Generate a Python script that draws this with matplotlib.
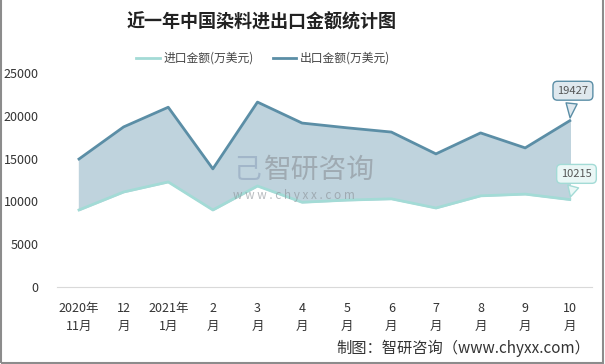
import numpy as np
import matplotlib.pyplot as plt
from matplotlib.patches import Rectangle

plt.rcParams['font.family'] = ['Noto Sans CJK SC', 'DejaVu Sans']

months = ["2020年\n11月", "12\n月", "2021年\n1月", "2\n月", "3\n月", "4\n月",
          "5\n月", "6\n月", "7\n月", "8\n月", "9\n月", "10\n月"]
imports = [9000, 11100, 12270, 9000, 11800, 9900, 10150, 10300, 9230, 10650, 10850, 10215]
exports = [14950, 18700, 21000, 13800, 21600, 19150, 18600, 18100, 15550, 18000, 16250, 19427]

c_exp = '#5b8ea6'
c_imp = '#a3dbd6'
c_fill = '#bfd3dd'

fig = plt.figure(figsize=(6.05, 3.64), dpi=100)
ax = fig.add_axes([0.0937, 0.2115, 0.885, 0.588])

x = np.arange(len(months))
ax.fill_between(x, imports, exports, color=c_fill, zorder=1)
ax.plot(x, imports, color=c_imp, lw=2, label='进口金额(万美元)', zorder=3)
ax.plot(x, exports, color=c_exp, lw=2, label='出口金额(万美元)', zorder=3)

ax.set_xlim(-0.5, 11.5)
ax.set_ylim(0, 25000)
ax.set_yticks([0, 5000, 10000, 15000, 20000, 25000])
ax.set_xticks(x)
ax.set_xticklabels(months, fontsize=9, color='#333333', linespacing=1.5)
ax.tick_params(axis='both', length=0, labelsize=9, colors='#333333')
ax.tick_params(axis='y', pad=13)
ax.tick_params(axis='x', pad=11)
for s in ['top', 'right', 'left']:
    ax.spines[s].set_visible(False)
ax.spines['bottom'].set_color('#d9d9d9')

# callouts on the last point
ax.annotate(str(exports[-1]), xy=(x[-1], exports[-1]), xytext=(x[-1] + 0.07, exports[-1] + 3500),
            ha='center', va='center', fontsize=8, color='#555555',
            bbox=dict(boxstyle='round,pad=0.4', fc='#dfe8ee', ec=c_exp, lw=1),
            arrowprops=dict(arrowstyle='wedge,tail_width=1.0', fc='#dfe8ee', ec=c_exp, lw=1), zorder=5)
ax.annotate(str(imports[-1]), xy=(x[-1], imports[-1]), xytext=(x[-1] + 0.15, imports[-1] + 3000),
            ha='center', va='center', fontsize=8, color='#555555',
            bbox=dict(boxstyle='round,pad=0.4', fc='#eaf7f6', ec=c_imp, lw=1),
            arrowprops=dict(arrowstyle='wedge,tail_width=1.0', fc='#eaf7f6', ec=c_imp, lw=1), zorder=5)

fig.legend(loc='center', bbox_to_anchor=(0.435, 0.84), ncol=2, frameon=False,
           fontsize=8.5, handlelength=2.0, columnspacing=1.6, handletextpad=0.3,
           labelcolor='#444444')

fig.text(0.433, 0.94, '近一年中国染料进出口金额统计图', ha='center', va='center',
         fontsize=13, fontweight='bold', color='#222222')

# watermark
fig.text(0.437, 0.533, '智研咨询', ha='left', va='center', fontsize=20, color='#8a9096', alpha=0.6)
fig.text(0.385, 0.463, 'w w w . c h y x x . c o m', ha='left', va='center', fontsize=8.5, color='#8a9096', alpha=0.6)
fig.text(0.386, 0.533, '己', ha='left', va='center', fontsize=20, color='#8fa3bd', alpha=0.6)

fig.text(0.976, 0.042, '制图：智研咨询（www.chyxx.com）', ha='right', va='center', fontsize=11, color='#333333')

fig.add_artist(Rectangle((0.001, 0.002), 0.996, 1.2, transform=fig.transFigure,
                         fill=False, ec='#8c8c8c', lw=1.5))

fig.savefig('out.png', dpi=100)
